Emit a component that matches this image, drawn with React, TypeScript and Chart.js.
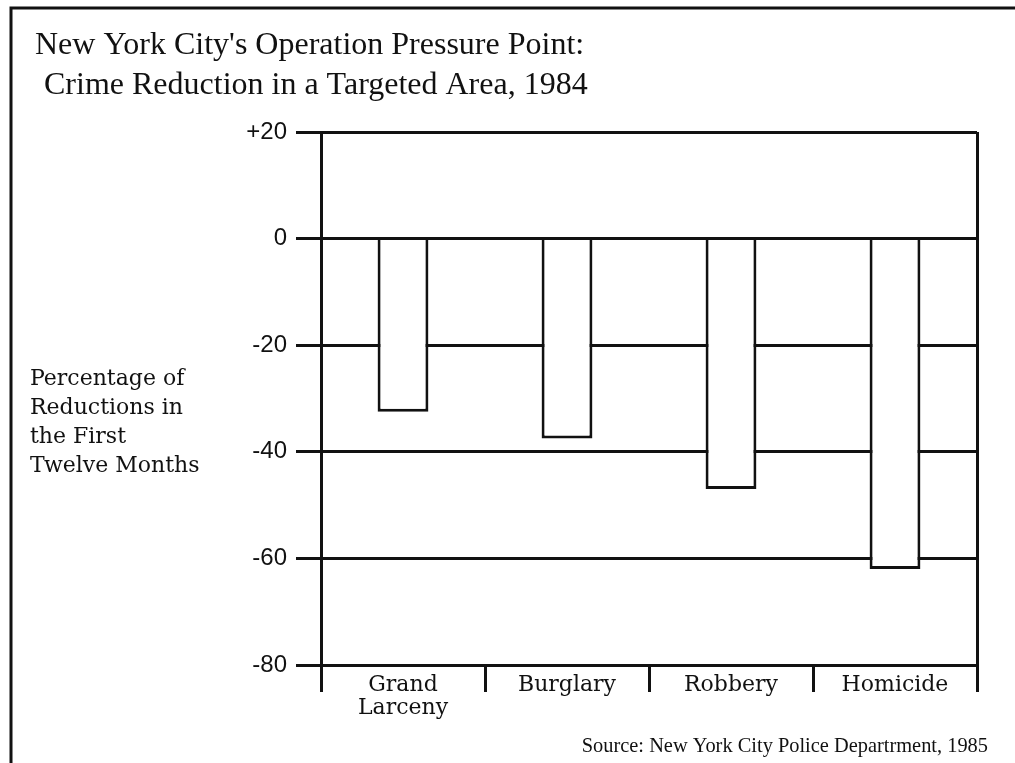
import React, { useEffect, useRef } from 'react';
import { Chart, registerables } from 'chart.js';

Chart.register(...registerables);

// ---- data ----
const categories: (string | string[])[] = [['Grand', 'Larceny'], 'Burglary', 'Robbery', 'Homicide'];
const reductions = [-32.5, -37.5, -47, -62];
const yMin = -80;
const yMax = 20;
const yStep = 20;
const titleLines = ["New York City's Operation Pressure Point:", 'Crime Reduction in a Targeted Area, 1984'];
const yCaption = ['Percentage of', 'Reductions in', 'the First', 'Twelve Months'];
const sourceNote = 'Source: New York City Police Departrment, 1985';

const INK = '#111';
const LW = 3;

const textPlugin = {
  id: 'pageText',
  afterDraw(chart: any) {
    const ctx = chart.ctx as CanvasRenderingContext2D;
    ctx.save();
    // frame (cropped on right and bottom)
    ctx.strokeStyle = INK;
    ctx.lineWidth = LW;
    ctx.beginPath();
    ctx.moveTo(11, chart.height);
    ctx.lineTo(11, 8);
    ctx.lineTo(chart.width, 8);
    ctx.stroke();

    ctx.fillStyle = INK;
    ctx.textBaseline = 'alphabetic';
    // title
    ctx.textAlign = 'left';
    ctx.font = '32px "Liberation Serif", serif';
    ctx.fillText(titleLines[0], 35, 54);
    ctx.fillText(titleLines[1], 44, 94);

    // y caption
    ctx.font = '22px "DejaVu Serif", serif';
    const capY = [385, 414, 443, 472];
    yCaption.forEach((t, i) => ctx.fillText(t, 30, capY[i]));

    // source
    ctx.textAlign = 'right';
    ctx.font = '20.4px "Liberation Serif", serif';
    ctx.fillText(sourceNote, 988, 752);
    ctx.restore();
  },
};

export default function App() {
  const canvasRef = useRef<HTMLCanvasElement | null>(null);

  useEffect(() => {
    const canvas = canvasRef.current;
    if (!canvas) return;
    const chart = new Chart(canvas, {
      type: 'bar',
      data: {
        labels: categories as any,
        datasets: [
          {
            data: reductions,
            backgroundColor: '#ffffff',
            borderColor: INK,
            borderWidth: LW,
            barPercentage: 0.31,
            categoryPercentage: 1.0,
          },
        ],
      },
      options: {
        animation: false,
        responsive: false,
        devicePixelRatio: 1,
        layout: { padding: { left: 0, top: 132, right: 38, bottom: 0 } },
        plugins: {
          legend: { display: false },
          tooltip: { enabled: false },
          title: { display: false },
        },
        scales: {
          x: {
            type: 'category',
            offset: true,
            grid: {
              offset: true,
              drawOnChartArea: true,
              color: (c: any) => (c.type === 'tick' && c.index > 0 ? 'rgba(0,0,0,0)' : INK),
              tickColor: INK,
              lineWidth: LW,
              tickLength: 27,
            },
            border: { display: true, color: INK, width: LW },
            ticks: {
              color: INK,
              font: { family: '"DejaVu Serif", serif', size: 22, lineHeight: 1.05 },
              padding: -18,
              maxRotation: 0,
              autoSkip: false,
            },
            afterFit: (s: any) => {
              s.height = 98;
            },
          },
          y: {
            min: yMin,
            max: yMax,
            ticks: {
              stepSize: yStep,
              color: INK,
              font: { family: '"Liberation Sans", sans-serif', size: 24 },
              padding: 9,
              callback: (v: any) => (Number(v) > 0 ? '+' + v : String(v)),
            },
            grid: { color: INK, lineWidth: LW, tickLength: 25 },
            border: { display: true, color: INK, width: LW },
            afterFit: (s: any) => {
              s.width = 321;
            },
          },
        },
      } as any,
      plugins: [textPlugin],
    });
    return () => chart.destroy();
  }, []);

  return (
    <div style={{ position: 'fixed', left: 0, top: 0, width: 1015, height: 763, background: '#fff' }}>
      <canvas ref={canvasRef} width={1015} height={763} style={{ display: 'block' }} />
    </div>
  );
}
